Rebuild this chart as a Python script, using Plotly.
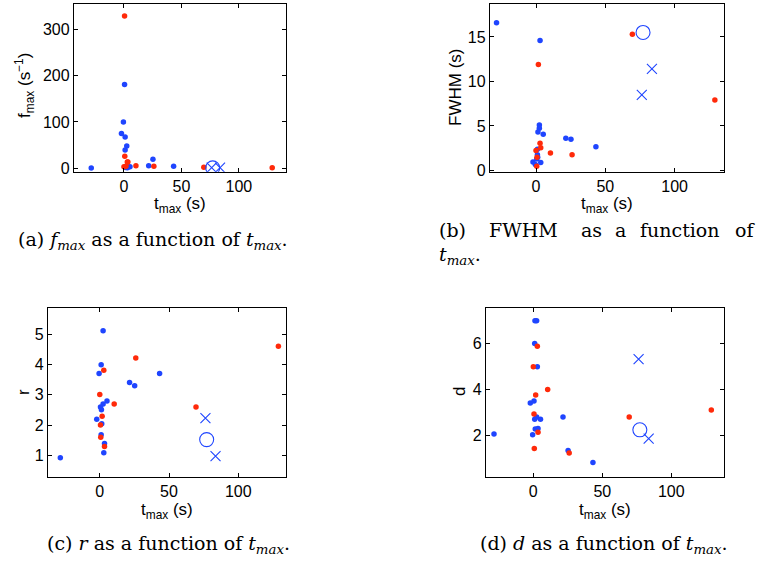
import plotly.graph_objects as go

# Event peak times (s) and measured quantities
t_blue = [-28.5, 43.2, 25.2, 21.5, 5.2, -2.2, 2.4, 1.0, -0.5, 2.4, 0.5, 1.2, 1.4, 1.0, 3.4, 2.9]
f_blue = [0.5, 4, 19, 5, 3, 75, 3, 67.5, 100, 48, 181, 2, 1.5, 39, 2.5, 1]
fwhm_blue = [16.6, 2.67, 3.52, 3.63, 4.07, 0.96, 5.11, 2.40, 0.67, 4.74, 1.30, 1.50, 4.33, 1.78, 0.89, 14.6]
r_blue = [0.93, 3.70, 3.30, 3.41, 2.80, 2.20, 5.11, 3.99, 3.70, 2.70, 2.60, 2.51, 2.05, 1.69, 1.40, 1.10]
d_blue = [2.06, 0.82, 1.34, 2.80, 2.70, 3.40, 6.97, 5.99, 2.03, 2.80, 3.49, 6.97, 2.28, 2.70, 2.30, 4.98]

t_red = [129, 26, 69.5, 10.4, 2.9, 0.0, 1.7, 0.5, 0.7, 3.4]
f_red = [0.7, 4, 2, 5, 13.5, 3, 4, 329, 26, 13.5]
fwhm_red = [7.93, 1.78, 15.3, 1.96, 3.07, 2.26, 11.9, 0.48, 1.48, 2.56]
r_red = [4.60, 4.21, 2.60, 2.70, 3.81, 3.01, 2.30, 2.01, 1.61, 1.30]
d_red = [3.10, 1.23, 2.80, 3.99, 5.87, 4.98, 3.75, 2.93, 1.43, 2.13]

t_circle = [77.2]
f_circle = [0.7]
fwhm_circle = [15.5]
r_circle = [1.53]
d_circle = [2.24]

t_cross = [76.3, 83.6]
f_cross = [1, 1]
fwhm_cross = [8.5, 11.4]
r_cross = [2.24, 0.99]
d_cross = [5.31, 1.86]

x_ticks = [0, 50, 100]

BLUE = "#1f45ff"
RED = "#ff2a0a"
W, H = 757, 568
SANS = "Liberation Sans, Arial, sans-serif"
SERIF = "DejaVu Serif, serif"

panels = [
    # axis suffix, y-values per group, x-domain px, y-domain px, x range, y range, y ticks
    ("", (f_blue, f_red, f_circle, f_cross), (74, 286), (4, 174), [-43.5, 141], [-8, 355], [0, 100, 200, 300]),
    ("2", (fwhm_blue, fwhm_red, fwhm_circle, fwhm_cross), (490, 724), (4, 174), [-33.2, 135.6], [-0.15, 18.7], [0, 5, 10, 15]),
    ("3", (r_blue, r_red, r_circle, r_cross), (48, 286), (312, 483), [-37.4, 134.5], [0.30, 5.85], [1, 2, 3, 4, 5]),
    ("4", (d_blue, d_red, d_circle, d_cross), (486, 724), (312, 483), [-34.3, 138.2], [0.19, 7.52], [2, 4, 6]),
]

fig = go.Figure()
layout = dict(
    width=W, height=H, margin=dict(l=0, r=0, t=0, b=0),
    paper_bgcolor="white", plot_bgcolor="white", showlegend=False,
    font=dict(family=SANS, size=16, color="black"),
)

axis_style = dict(
    showline=True, linecolor="black", linewidth=1.3, mirror="ticks",
    ticks="inside", ticklen=4, tickwidth=1, tickcolor="black",
    showgrid=False, zeroline=False,
    tickfont=dict(family=SANS, size=16, color="black"),
)

for key, (yb, yr, yc, yx), (x0, x1), (y0, y1), xr, yrng, yt in panels:
    xa, ya = "x" + key, "y" + key
    fig.add_trace(go.Scatter(x=t_blue, y=yb, mode="markers", xaxis=xa, yaxis=ya,
                             marker=dict(color=BLUE, size=5.5)))
    fig.add_trace(go.Scatter(x=t_red, y=yr, mode="markers", xaxis=xa, yaxis=ya,
                             marker=dict(color=RED, size=5.5)))
    fig.add_trace(go.Scatter(x=t_circle, y=yc, mode="markers", xaxis=xa, yaxis=ya,
                             marker=dict(symbol="circle-open", color=BLUE, size=14,
                                         line=dict(width=1.1, color=BLUE))))
    fig.add_trace(go.Scatter(x=t_cross, y=yx, mode="markers", xaxis=xa, yaxis=ya,
                             marker=dict(symbol="x-thin-open", color=BLUE, size=10,
                                         line=dict(width=1.1, color=BLUE))))
    layout["xaxis" + key] = dict(axis_style, domain=[x0 / W, x1 / W], range=xr,
                                 tickvals=x_ticks, anchor=ya)
    layout["yaxis" + key] = dict(axis_style, domain=[1 - y1 / H, 1 - y0 / H], range=yrng,
                                 tickvals=yt, anchor=xa)

annotations = []


def px_note(text, x, y, size=17, family=SANS, xanchor="center", yanchor="middle", angle=0):
    annotations.append(dict(text=text, x=x / W, y=1 - y / H, xref="paper", yref="paper",
                            showarrow=False, xanchor=xanchor, yanchor=yanchor,
                            textangle=angle, font=dict(size=size, family=family, color="black")))


# Axis titles
tlabel = "t<sub>max</sub> (s)"
px_note(tlabel, 180, 208)
px_note(tlabel, 607, 208)
px_note(tlabel, 167, 517)
px_note(tlabel, 605, 517)
px_note("f<sub>max</sub> (s<sup>\u22121</sup>)", 25, 87, angle=-90)
px_note("FWHM (s)", 456, 89, angle=-90)
px_note("r", 23, 397, angle=-90)
px_note("d", 459, 397, angle=-90)

# Sub-captions
tmax = "<i>t</i><sub><i>max</i></sub>"
NB = "\u00a0"
px_note("(a)" + NB + "<i>f</i><sub><i>max</i></sub> as a function of " + tmax + ".",
        153, 244, size=19, family=SERIF)
# caption (b) is set justified over the full width: one annotation per word
for word, x in [("(b)", 437), ("FWHM", 487), ("as", 579), ("a", 613), ("function", 638), ("of", 733)]:
    px_note(word, x, 233, size=19, family=SERIF, xanchor="left")
px_note(tmax + ".", 437, 259, size=19, family=SERIF, xanchor="left")
px_note("(c)" + NB + "<i>r</i> as a function of " + tmax + ".", 168, 551, size=19, family=SERIF)
px_note("(d)" + NB + "<i>d</i> as a function of " + tmax + ".", 604, 551, size=19, family=SERIF)

layout["annotations"] = annotations
fig.update_layout(**layout)
fig.write_html("out.html")
